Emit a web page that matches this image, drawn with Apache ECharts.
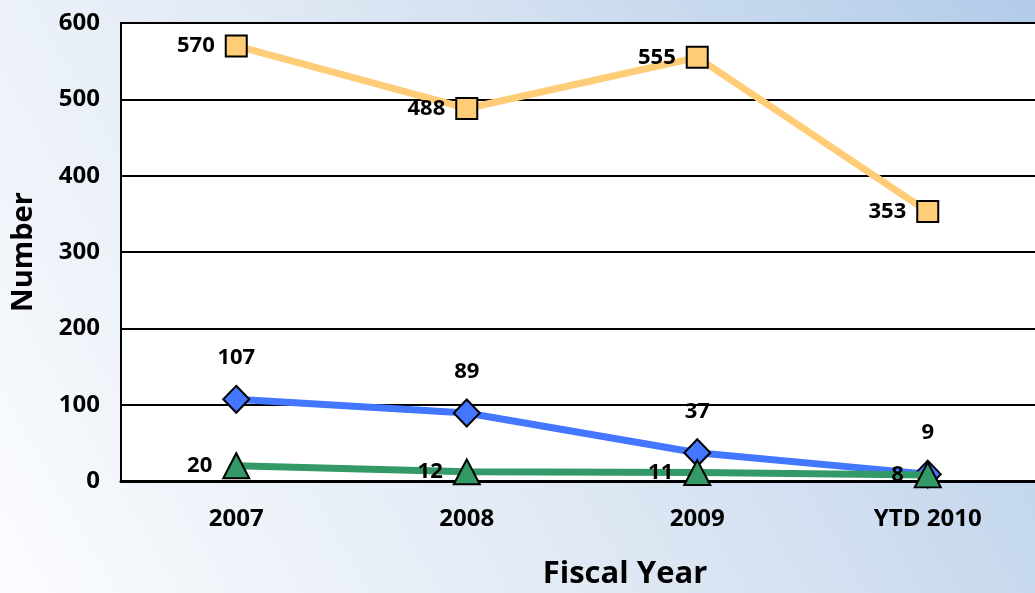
<!DOCTYPE html>
<html><head><meta charset="utf-8">
<script src="https://cdn.jsdelivr.net/npm/echarts@6/dist/echarts.min.js"></script>
<style>html,body{margin:0;padding:0;}#c{width:1035px;height:593px;}</style>
</head><body><div id="c"></div>
<script>
const categories = ['2007', '2008', '2009', 'YTD 2010'];
const orangeValues = [570, 488, 555, 353];
const blueValues = [107, 89, 37, 9];
const greenValues = [20, 12, 11, 8];
const yTicks = [0, 100, 200, 300, 400, 500, 600];

const font = '"Open Sans", Lato, "DejaVu Sans", sans-serif';
const chart = echarts.init(document.getElementById('c'));
chart.setOption({
  backgroundColor: new echarts.graphic.LinearGradient(0, 1, 1, 0, [
    {offset: 0, color: '#fbfcfe'},
    {offset: 0.5, color: '#dce6f3'},
    {offset: 1, color: '#b3cce9'}
  ]),
  animation: false,
  grid: {left: 121, top: 23, width: 922, bottom: 112, outerBoundsMode: 'none', containLabel: false,
         show: true, backgroundColor: '#ffffff', borderColor: '#000', borderWidth: 2},
  xAxis: {
    type: 'category', data: categories, boundaryGap: true,
    axisLine: {show: true, lineStyle: {color: '#000', width: 3}},
    axisTick: {show: false},
    axisLabel: {color: '#000', fontFamily: font, fontWeight: 'bold', fontSize: 24, margin: 26},
    name: 'Fiscal Year', nameLocation: 'middle', nameGap: 78,
    nameTextStyle: {color: '#000', fontFamily: font, fontWeight: 'bold', fontSize: 31, padding: [0, 0, 0, 86]}
  },
  yAxis: {
    type: 'value', min: yTicks[0], max: yTicks[yTicks.length - 1], interval: 100,
    axisLine: {show: true, lineStyle: {color: '#000', width: 2}},
    axisTick: {show: false},
    splitLine: {lineStyle: {color: '#000', width: 2}},
    axisLabel: {color: '#000', fontFamily: font, fontWeight: 'bold', fontSize: 24, margin: 21},
    name: 'Number', nameLocation: 'middle', nameGap: 83, nameRotate: 90,
    nameTextStyle: {color: '#000', fontFamily: font, fontWeight: 'bold', fontSize: 29}
  },
  series: [
    {
      type: 'line', data: orangeValues, symbol: 'rect', symbolSize: 21,
      lineStyle: {color: '#ffcc77', width: 7},
      itemStyle: {color: '#ffcc77', borderColor: '#000', borderWidth: 2},
      label: {show: true, position: 'left', distance: 10, color: '#000', fontFamily: font, fontWeight: 'bold', fontSize: 22},
      z: 3
    },
    {
      type: 'line', data: blueValues, symbol: 'diamond', symbolSize: [26, 27],
      lineStyle: {color: '#4477ff', width: 7},
      itemStyle: {color: '#4477ff', borderColor: '#000', borderWidth: 2},
      label: {show: true, position: 'top', distance: 16, color: '#000', fontFamily: font, fontWeight: 'bold', fontSize: 22},
      z: 4
    },
    {
      type: 'line', data: greenValues, symbol: 'triangle', symbolSize: [26, 25],
      lineStyle: {color: '#339966', width: 7},
      itemStyle: {color: '#339966', borderColor: '#000', borderWidth: 2},
      label: {show: true, position: 'left', distance: 10, color: '#000', fontFamily: font, fontWeight: 'bold', fontSize: 22},
      z: 5
    }
  ]
});
</script></body></html>
